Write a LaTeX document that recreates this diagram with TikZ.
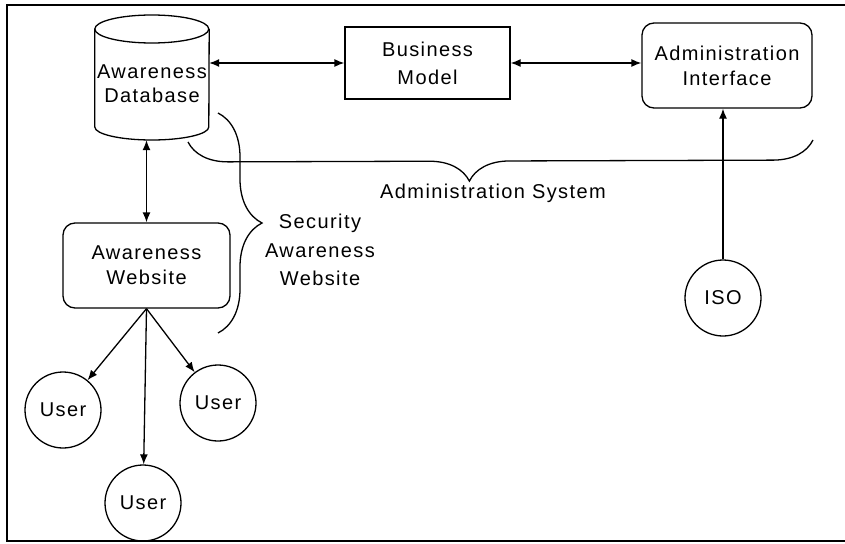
\documentclass[tikz,border=0pt]{standalone}
\usepackage{fontspec}
\setmainfont{Liberation Sans}[LetterSpace=7]
\usetikzlibrary{arrows.meta,decorations.pathreplacing}
\begin{document}
\begin{tikzpicture}[x=1pt,y=1pt,
  every node/.style={font=\fontsize{20}{25}\selectfont},
  ln/.style={line width=1.3pt},
  box/.style={draw, line width=1.3pt, align=center, inner sep=0pt},
  rbox/.style={box, rounded corners=12pt},
  usr/.style={draw, circle, line width=1.3pt, minimum size=76pt, inner sep=0pt},
  arr/.style={line width=1.3pt, -{Latex[length=10pt,width=8pt]}},
  darr/.style={line width=1.3pt, {Latex[length=10pt,width=8pt]}-{Latex[length=10pt,width=8pt]}},
  brc/.style={decorate, line width=1.3pt}
]
\useasboundingbox (0,0) rectangle (845,-543);
% frame
\draw[line width=1.5pt] (845,-5) -- (7,-5) -- (7,-541) -- (845,-541);

% database cylinder
\node[inner sep=0pt, minimum width=114pt, minimum height=125pt] (db) at (152,-77.5) {};
\draw[ln] (db.west |- 0,-29) arc[start angle=180, end angle=-180, x radius=57, y radius=14];
\draw[ln] (db.west |- 0,-29) -- (db.west |- 0,-127)
  arc[start angle=180, end angle=360, x radius=57, y radius=13] -- (db.east |- 0,-29);
\node[align=center, font=\fontsize{20}{24}\selectfont] (dbt) at (152,-84) {Awareness\\Database};

% boxes
\node[box, minimum width=165pt, minimum height=72pt, font=\fontsize{20}{28}\selectfont] (bm) at (427.5,-63) {Business\\Model};
\node[rbox, minimum width=170pt, minimum height=85pt] (ai) at (727,-65.5) {Administration\\Interface};
\node[rbox, minimum width=167pt, minimum height=85pt] (aw) at (146.5,-265.5) {Awareness\\Website};

% circles
\node[usr] (u1) at (63,-410) {User};
\node[usr] (u2) at (218,-403) {User};
\node[usr] (u3) at (143,-503) {User};
\node[usr] (iso) at (723,-298) {ISO};

% connectors
\draw[darr] (db.east |- bm.west) -- (bm.west);
\draw[darr] (bm.east) -- (bm.east -| ai.west);
\draw[darr] (db.south -| aw.north) -- (aw.north);
\draw[arr] (iso.north) -- (iso.north |- ai.south);
\draw[arr] (aw.south) -- (u1);
\draw[arr] (aw.south) -- (u2);
\draw[arr] (aw.south) -- (u3);

% braces
\coordinate (sb1) at (218,-113);
\coordinate (sb2) at (218,-333);
\draw[brc, decoration={brace, amplitude=44pt}] (sb1) -- (sb2);
\node[align=center, font=\fontsize{20}{28.5}\selectfont] (sec) at (320,-250) {Security\\Awareness\\Website};

\coordinate (ab1) at (813,-140);
\coordinate (ab2) at (188,-142);
\draw[brc, decoration={brace, amplitude=40pt, aspect=0.55}] (ab1) -- (ab2);
\node (adm) at (493,-193) {Administration System};
\end{tikzpicture}
\end{document}
